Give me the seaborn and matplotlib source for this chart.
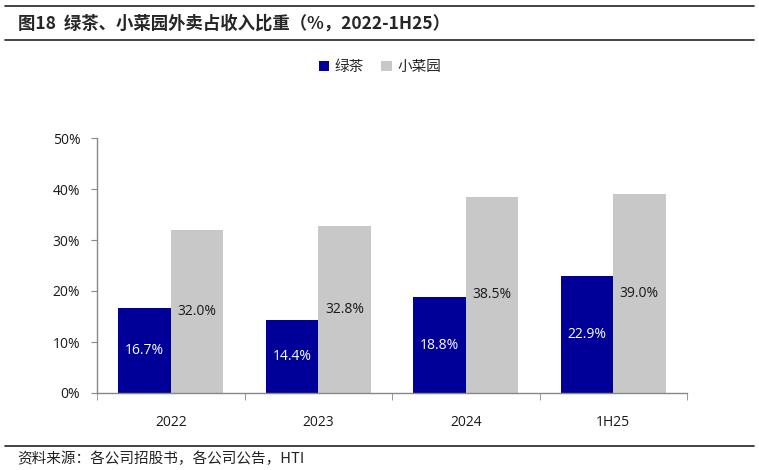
import matplotlib
matplotlib.use("Agg")
import matplotlib.pyplot as plt
import seaborn as sns
import pandas as pd
from matplotlib.lines import Line2D
from matplotlib.ticker import PercentFormatter, FixedLocator

periods = ["2022", "2023", "2024", "1H25"]
series = ["绿茶", "小菜园"]
lvcha = [16.7, 14.4, 18.8, 22.9]
xiaocaiyuan = [32.0, 32.8, 38.5, 39.0]

df = pd.DataFrame({
    "period": periods * 2,
    "brand": [series[0]] * 4 + [series[1]] * 4,
    "share": [v / 100 for v in lvcha + xiaocaiyuan],
})

sns.set_style("white")
plt.rcParams["font.family"] = ["Noto Sans CJK SC", "DejaVu Sans"]

colors = {"绿茶": "#000099", "小菜园": "#C8C8C8"}

fig = plt.figure(figsize=(7.59, 4.70), dpi=100)
ax = fig.add_axes([97 / 759, 1 - 393 / 470, 590 / 759, 255 / 470])

sns.barplot(
    data=df, x="period", y="share", hue="brand",
    palette=colors, width=0.71, gap=0, saturation=1,
    edgecolor="none", ax=ax, legend=True,
)

for cont, col in zip(ax.containers, ["white", "#1a1a1a"]):
    ax.bar_label(
        cont, labels=[f"{b.get_height() * 100:.1f}%" for b in cont],
        label_type="center", color=col, fontsize=10, family="Open Sans",
    )

ax.set_ylim(0, 0.5)
ax.set_xlim(-0.5, 3.5)
ax.yaxis.set_major_formatter(PercentFormatter(1.0, decimals=0))
ax.set_yticks([0, 0.1, 0.2, 0.3, 0.4, 0.5])
ax.set_xlabel("")
ax.set_ylabel("")

for s in ["top", "right"]:
    ax.spines[s].set_visible(False)
for s in ["left", "bottom"]:
    ax.spines[s].set_color("#888888")
    ax.spines[s].set_linewidth(1)

ax.tick_params(axis="y", left=True, length=4, color="#888888", labelsize=10, pad=8)
ax.tick_params(axis="x", bottom=False, labelsize=10, pad=12)
ax.xaxis.set_minor_locator(FixedLocator([-0.5, 0.5, 1.5, 2.5, 3.5]))
ax.tick_params(axis="x", which="minor", bottom=True, length=5, color="#888888")
for lab in ax.get_xticklabels() + ax.get_yticklabels():
    lab.set_family("Open Sans")
    lab.set_color("#1a1a1a")

handles, labels = ax.get_legend_handles_labels()
ax.get_legend().remove()
fig.legend(
    handles, labels, loc="center", bbox_to_anchor=(380 / 759, 1 - 67 / 470),
    ncol=2, frameon=False, fontsize=10.5, handlelength=0.7, handleheight=0.7,
    handletextpad=0.4, columnspacing=1.2,
)

# header and footer rules
for yy in [6, 40, 446]:
    fig.add_artist(Line2D([5 / 759, 754 / 759], [1 - yy / 470] * 2,
                          color="#222222", linewidth=1.2))

fig.text(18 / 759, 1 - 24 / 470, "图18  绿茶、小菜园外卖占收入比重（%，2022-1H25）",
         fontsize=12.5, fontweight="bold", va="center", ha="left")
fig.text(17 / 759, 1 - 459 / 470, "资料来源：各公司招股书，各公司公告，HTI",
         fontsize=10.5, va="center", ha="left", color="#222222")

fig.savefig("out.png", dpi=100)
